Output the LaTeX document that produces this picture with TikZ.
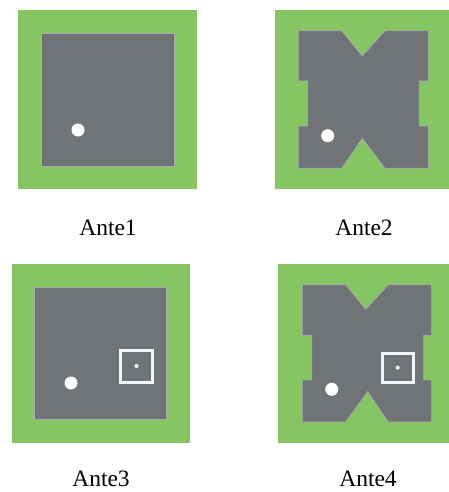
\documentclass[tikz,border=0pt]{standalone}
\usepackage{fontspec}
\setmainfont{Liberation Serif}
\definecolor{patchgreen}{HTML}{86C662}
\definecolor{patchgray}{HTML}{717477}
\definecolor{edgegray}{HTML}{A8ABAE}
\definecolor{slotwhite}{HTML}{F4F7FA}
\begin{document}
\begin{tikzpicture}[x=1pt,y=-1pt,
  substrate/.style={fill=patchgreen,draw=none},
  patch/.style={fill=patchgray,draw=edgegray,line width=0.7pt},
  feed/.style={fill=white,draw=none},
  slot/.style={draw=slotwhite,line width=3pt},
  lbl/.style={font=\fontsize{23.5}{24}\selectfont,anchor=base,inner sep=0pt}]
\useasboundingbox (0,0) rectangle (449,492);
% Ante1
\fill[substrate] (18,10.5) rectangle (197,189);
\draw[patch] (41,33) rectangle (174,166);
\fill[feed] (78,130) circle (6.5);
\node[lbl] (l1) at (108,235.5) {Ante1};
% Ante2
\fill[substrate] (274.5,10.5) rectangle (449,189);
\draw[patch] (298.3,30.7) -- (341.7,30.7) -- (362.3,56) -- (385,30.7) -- (428.3,30.7)
  -- (428.3,81) -- (419.3,81) -- (419.3,126) -- (428.3,126) -- (428.3,168.3)
  -- (385,168.3) -- (362.3,138.3) -- (341.7,168.3) -- (298.3,168.3)
  -- (298.3,126) -- (307.7,126) -- (307.7,81) -- (298.3,81) -- cycle;
\fill[feed] (327.7,135.7) circle (6.5);
\node[lbl] (l2) at (364,235.5) {Ante2};
% Ante3
\fill[substrate] (11.7,264.3) rectangle (190,442.7);
\draw[patch] (34.3,287) rectangle (166.7,419.3);
\fill[feed] (71,383) circle (6.5);
\draw[slot] (120.7,350.7) rectangle (152,382);
\fill[feed] (136.5,366) circle (2);
\node[lbl] (l3) at (101,486.5) {Ante3};
% Ante4
\fill[substrate] (277.7,264) rectangle (449,443);
\draw[patch] (302.3,284.7) -- (345.7,284.7) -- (365.7,309.3) -- (388.3,284.7) -- (431.7,284.7)
  -- (431.7,335.3) -- (423.7,335.3) -- (423.7,380) -- (431.7,380) -- (431.7,422)
  -- (388.3,422) -- (367.7,391.7) -- (345.7,422) -- (302.3,422)
  -- (302.3,380) -- (311.7,380) -- (311.7,335.3) -- (302.3,335.3) -- cycle;
\fill[feed] (331.7,389.3) circle (6.5);
\draw[slot] (382,353.3) rectangle (413,382);
\fill[feed] (397.7,367.7) circle (2);
\node[lbl] (l4) at (368,486.5) {Ante4};
\end{tikzpicture}
\end{document}
